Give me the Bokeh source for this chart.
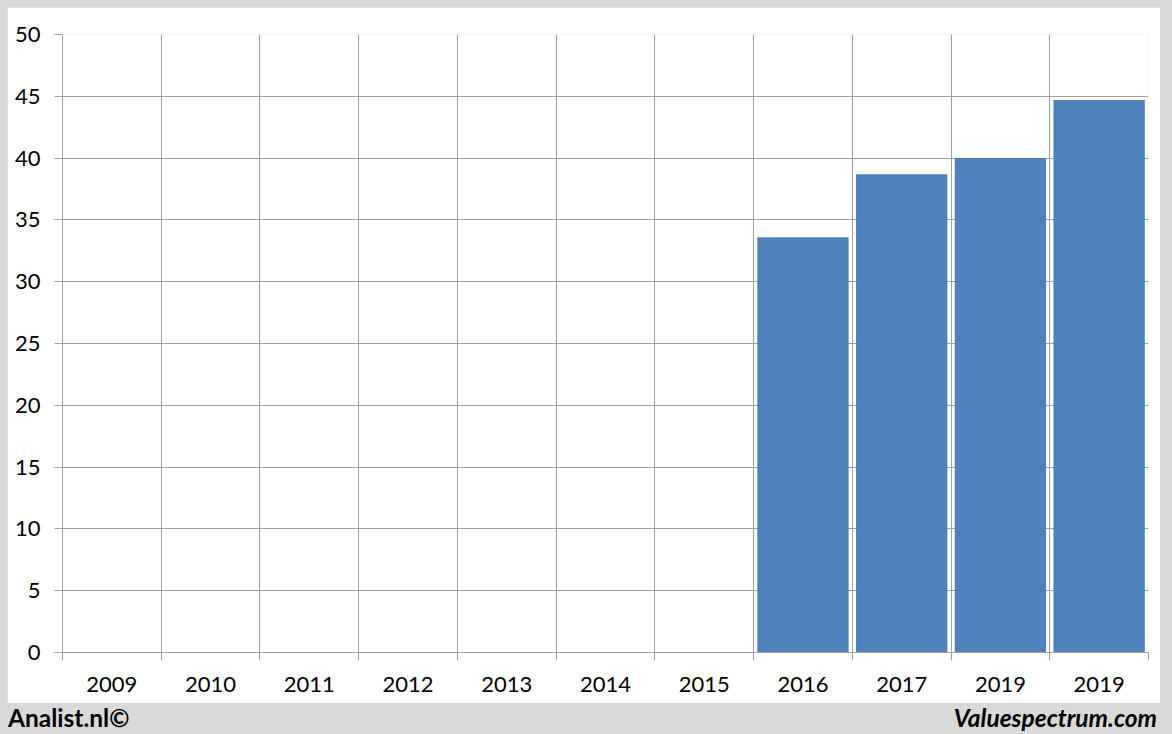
from bokeh.plotting import figure
from bokeh.models import Range1d, FixedTicker, ColumnDataSource, Div
from bokeh.layouts import column
from bokeh.embed import file_html
from bokeh.resources import INLINE

# ---- data ----
year_labels = ["2009", "2010", "2011", "2012", "2013", "2014", "2015",
               "2016", "2017", "2019", "2019"]
values = [None, None, None, None, None, None, None, 33.6, 38.7, 40.0, 44.7]
y_ticks = [0, 5, 10, 15, 20, 25, 30, 35, 40, 45, 50]
footer_left = "Analist.nl©"
footer_right = "Valuespectrum.com"

BAR = "#4f81bd"
GRID = "#a0a0a0"
BG = "#d9d9d9"
FONT = "Lato"

n = len(year_labels)
centers = list(range(n))
bounds = [i - 0.5 for i in range(n + 1)]

xs = [i for i, v in enumerate(values) if v is not None]
tops = [v for v in values if v is not None]
src = ColumnDataSource(dict(x=xs, top=tops))

p = figure(width=1153, height=696, output_backend="svg", toolbar_location=None,
           x_range=Range1d(-0.5, n - 0.5), y_range=Range1d(0, 50),
           min_border_left=55, min_border_right=12, min_border_top=27,
           min_border_bottom=51)
p.margin = (7, 12, 0, 7)
p.background_fill_color = "white"
p.border_fill_color = "white"
p.outline_line_color = None

p.vbar(x="x", top="top", width=0.925, source=src, fill_color=BAR, line_color=None)

# grids
p.xgrid.ticker = FixedTicker(ticks=bounds)
p.ygrid.ticker = FixedTicker(ticks=y_ticks)
for g in (p.xgrid, p.ygrid):
    g.grid_line_color = GRID
    g.grid_line_width = 1

# x axis
xa = p.xaxis[0]
xa.ticker = FixedTicker(ticks=centers, minor_ticks=bounds)
xa.major_label_overrides = {i: lab for i, lab in enumerate(year_labels)}
xa.major_tick_in = 0
xa.major_tick_out = 0
xa.minor_tick_in = 0
xa.minor_tick_out = 8
xa.minor_tick_line_color = GRID
xa.axis_line_color = GRID
xa.major_label_standoff = 16
xa.major_label_text_font = FONT
xa.major_label_text_font_size = "22px"
xa.major_label_text_color = "black"

# y axis
ya = p.yaxis[0]
ya.ticker = FixedTicker(ticks=y_ticks)
ya.major_tick_in = 0
ya.major_tick_out = 8
ya.major_tick_line_color = GRID
ya.minor_tick_line_color = None
ya.axis_line_color = GRID
ya.major_label_standoff = 14
ya.major_label_text_font = FONT
ya.major_label_text_font_size = "22px"
ya.major_label_text_color = "black"

footer = Div(
    text=(f'<div style="display:flex;justify-content:space-between;align-items:center;'
          f'width:1172px;height:31px;box-sizing:border-box;padding:0 15px 2px 8px;'
          f'font-family:{FONT};font-size:24.5px;font-weight:bold;color:black;">'
          f'<span>{footer_left}</span>'
          f'<span style="font-style:italic;">{footer_right}</span></div>'),
    width=1172, height=31, margin=(0, 0, 0, 0),
    styles={"background-color": BG})

layout = column(p, footer, spacing=0, styles={"background-color": BG})

open("out.html", "w").write(file_html(layout, INLINE))
